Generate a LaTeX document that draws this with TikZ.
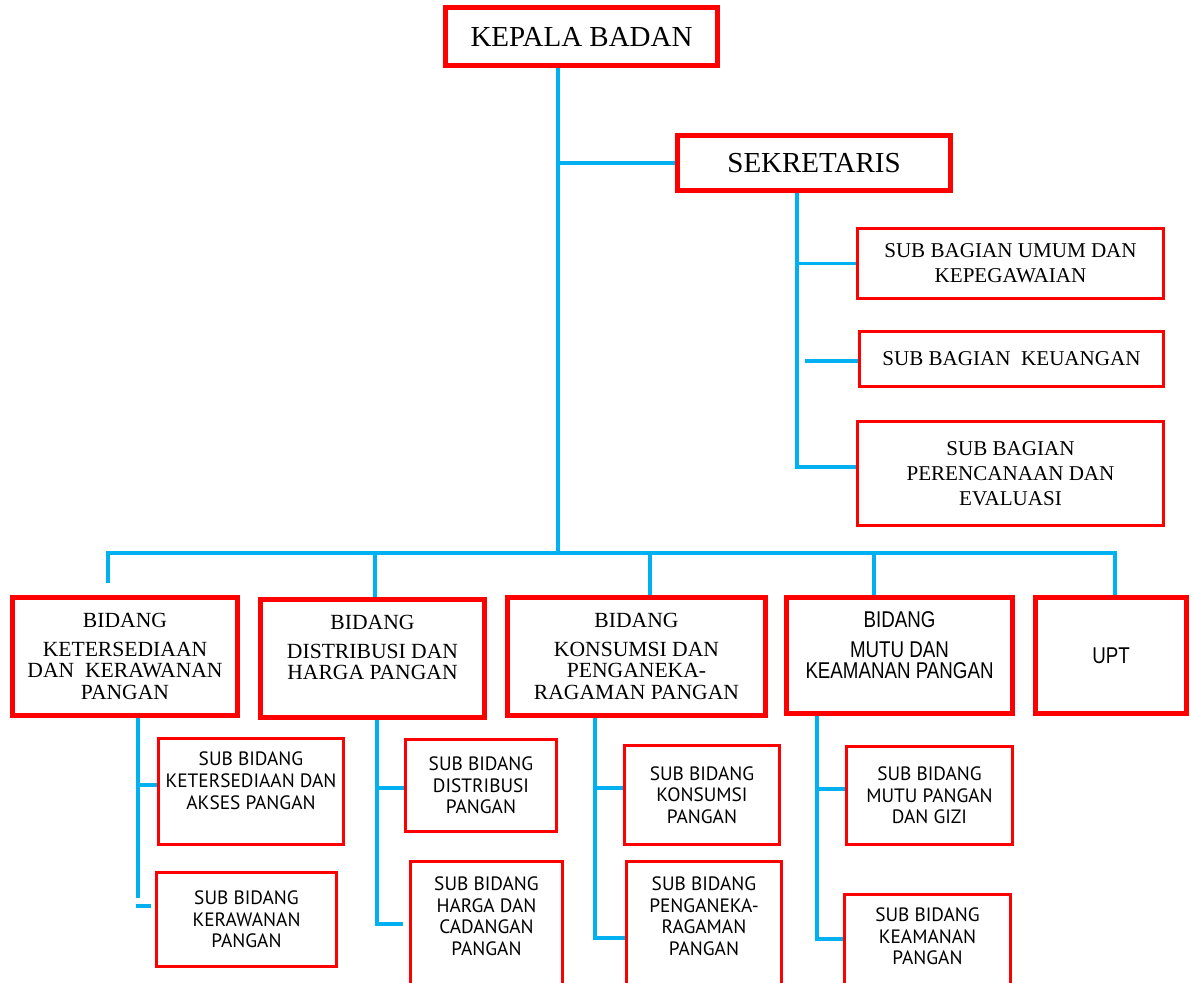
\documentclass[tikz,border=0pt]{standalone}
\usepackage{fontspec}
\setmainfont{Liberation Serif}
\newfontfamily\subfont{PT Sans}
\newfontfamily\narrowfont{Liberation Sans}[FakeStretch=0.82]
\usepackage{xcolor}
\usepackage{tikz}
\usetikzlibrary{positioning}
\definecolor{orgred}{HTML}{FF0000}
\definecolor{orgblue}{HTML}{00B0F0}
\tikzset{
  box/.style={draw=orgred, line width=0.1cm, inner sep=0pt, align=center},
  subbox/.style={draw=orgred, line width=0.06cm, inner sep=0pt, align=center},
  wh/.style 2 args={minimum width=#1*0.02cm, minimum height=#2*0.02cm},
  link/.style={draw=orgblue, line width=0.08cm},
  topfont/.style={font=\fontsize{16.5}{19}\selectfont},
  bagfont/.style={font=\fontsize{12}{14.2}\selectfont},
  bidfont/.style={font=\fontsize{12.3}{12.2}\selectfont},
  narrowtext/.style={font=\narrowfont\fontsize{13}{12}\selectfont},
  sbfont/.style={font=\subfont\fontsize{11}{12.3}\selectfont}
}

\begin{document}
\begin{tikzpicture}[x=0.02cm, y=-0.02cm]
\useasboundingbox (0,0) rectangle (1193,983);
\clip (0,0) rectangle (1193,983);

% pimpinan
\node[box, wh={272}{58}, topfont] (kepala) at (581.5,36.5) {KEPALA BADAN};
\node[box, wh={273}{55}, topfont] (sekretaris) at (814,163) {SEKRETARIS};

% sub bagian
\node[subbox, wh={306}{70}, bagfont] (sbumum) at (1010.5,263.5) {SUB BAGIAN UMUM DAN\\KEPEGAWAIAN};
\node[subbox, wh={304}{55}, bagfont] (sbkeu) at (1011.5,359) {SUB BAGIAN\ \ KEUANGAN};
\node[subbox, wh={306}{104}, bagfont] (sbren) at (1010.5,473.5) {SUB BAGIAN\\PERENCANAAN DAN\\EVALUASI};

% bidang
\node[box, wh={225}{118}, bidfont] (bketersediaan) at (125,656.5) {BIDANG\\[4pt]KETERSEDIAAN\\DAN\ \ KERAWANAN\\PANGAN};
\node[box, wh={224}{118}, bidfont] (bdistribusi) at (372.5,658.5) {BIDANG\\[4pt]DISTRIBUSI DAN\\HARGA PANGAN\\ \mbox{}};
\node[box, wh={258}{118}, bidfont] (bkonsumsi) at (636.5,656.5) {BIDANG\\[4pt]KONSUMSI DAN\\PENGANEKA-\\RAGAMAN PANGAN};
\node[box, wh={226}{116}, narrowtext] (bmutu) at (899.5,655.5) {BIDANG\\[5pt]MUTU DAN\\KEAMANAN PANGAN\\ \mbox{}};
\node[box, wh={151}{116}, narrowtext] (upt) at (1111,655.5) {UPT};

% sub bidang
\node[subbox, wh={185}{106}, sbfont] (sketersediaan) at (251,791.5) {SUB BIDANG\\KETERSEDIAAN DAN\\AKSES PANGAN\\ \mbox{}};
\node[subbox, wh={180}{94}, sbfont] (skerawanan) at (246.5,919.5) {SUB BIDANG\\KERAWANAN\\PANGAN};
\node[subbox, wh={151}{92}, sbfont] (sdistribusi) at (481,785.5) {SUB BIDANG\\DISTRIBUSI\\PANGAN};
\node[subbox, wh={152}{130.5}, sbfont] (sharga) at (486.5,926.75) {SUB BIDANG\\HARGA DAN\\CADANGAN\\PANGAN\\ \mbox{}};
\node[subbox, wh={155}{99}, sbfont] (skonsumsi) at (702,795) {SUB BIDANG\\KONSUMSI\\PANGAN};
\node[subbox, wh={155}{130.5}, sbfont] (spenganeka) at (704,926.75) {SUB BIDANG\\PENGANEKA-\\RAGAMAN\\PANGAN\\ \mbox{}};
\node[subbox, wh={166}{98}, sbfont] (smutu) at (929.5,795.5) {SUB BIDANG\\MUTU PANGAN\\DAN GIZI};
\node[subbox, wh={166}{105.5}, sbfont] (skeamanan) at (927.5,947.25) {SUB BIDANG\\KEAMANAN\\PANGAN\\ \mbox{}};

% garis komando
\coordinate (trunk) at (558,553);
\coordinate (d1) at (108,553);
\coordinate (d1end) at (108,583);
\coordinate (d2) at (375,553);
\coordinate (d3) at (650,553);
\coordinate (d4) at (874,553);
\coordinate (d5) at (1115,553);
\draw[link] (kepala.south -| trunk) -- (trunk);
\draw[link] (trunk |- sekretaris.west) -- (sekretaris.west);
\draw[link] (d1end) -- (d1) -- (d5) -- (d5 |- upt.north);
\draw[link] (d2) -- (d2 |- bdistribusi.north);
\draw[link] (d3) -- (d3 |- bkonsumsi.north);
\draw[link] (d4) -- (d4 |- bmutu.north);

% sekretariat
\coordinate (sekbus) at (797,467);
\coordinate (keustart) at (805,361);
\draw[link] (sekretaris.south -| sekbus) -- (sekbus) -- (sekbus -| sbren.west);
\draw[link] (sekbus |- sbumum.west) -- (sbumum.west);
\draw[link] (keustart) -- (keustart -| sbkeu.west);

% bidang ke sub bidang
\coordinate (k1) at (138,898);
\coordinate (k1a) at (138,785);
\coordinate (k1b) at (136,906);
\draw[link] (bketersediaan.south -| k1) -- (k1);
\draw[link] (k1a) -- (k1a -| sketersediaan.west);
\draw[link] (k1b) -- ++(15,0);

\coordinate (k2) at (377,924);
\coordinate (k2a) at (377,788);
\draw[link] (bdistribusi.south -| k2) -- (k2) -- ++(26,0);
\draw[link] (k2a) -- (k2a -| sdistribusi.west);

\coordinate (k3) at (595,938);
\coordinate (k3a) at (595,788);
\draw[link] (bkonsumsi.south -| k3) -- (k3) -- (k3 -| spenganeka.west);
\draw[link] (k3a) -- (k3a -| skonsumsi.west);

\coordinate (k4) at (817,939);
\coordinate (k4a) at (817,789);
\draw[link] (bmutu.south -| k4) -- (k4) -- (k4 -| skeamanan.west);
\draw[link] (k4a) -- (k4a -| smutu.west);
\end{tikzpicture}
\end{document}
